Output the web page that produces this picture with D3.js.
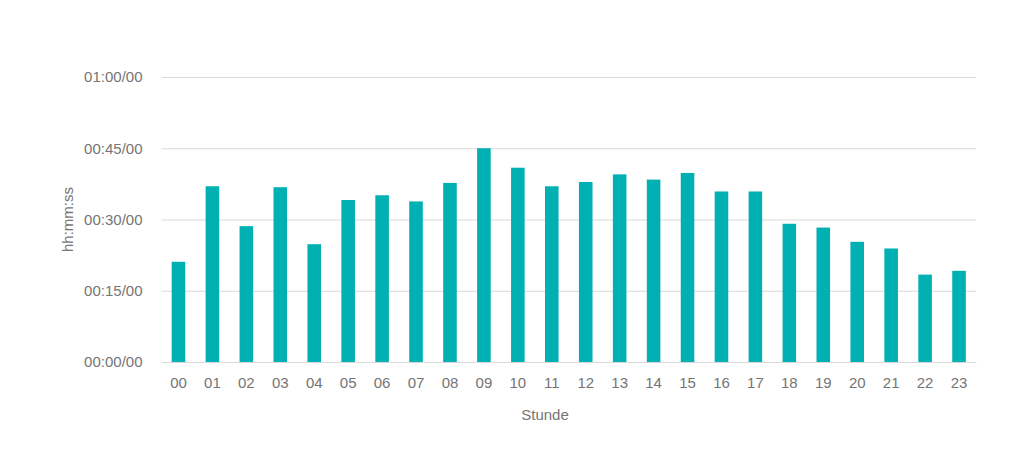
<!DOCTYPE html>
<html>
<head>
<meta charset="utf-8">
<script src="https://cdn.jsdelivr.net/npm/d3@7"></script>
<style>
  body { margin: 0; background: #fff; }
  text { font-family: "Liberation Sans", Helvetica, Arial, sans-serif; fill: #757575; }
</style>
</head>
<body>
<div id="chart"></div>
<script>
// hours of the day
var hours = ["00","01","02","03","04","05","06","07","08","09","10","11",
             "12","13","14","15","16","17","18","19","20","21","22","23"];
// average duration in minutes
var minutes = [21.1, 37.0, 28.6, 36.8, 24.8, 34.1, 35.1, 33.8, 37.7, 45.0, 40.9, 37.0,
               37.9, 39.5, 38.4, 39.8, 35.9, 35.9, 29.1, 28.3, 25.3, 23.9, 18.4, 19.2];
var tickValues = [0, 15, 30, 45, 60];
var tickLabels = ["00:00/00", "00:15/00", "00:30/00", "00:45/00", "01:00/00"];

var width = 1024, height = 468;
var margin = { top: 77, right: 48, bottom: 106, left: 161.5 };

var svg = d3.select("#chart")
  .append("svg")
  .attr("width", width)
  .attr("height", height);

var x = d3.scaleBand()
  .domain(hours)
  .range([margin.left, width - margin.right])
  .paddingInner(0.6)
  .paddingOuter(0.3);

var y = d3.scaleLinear()
  .domain([0, 60])
  .range([height - margin.bottom, margin.top]);

// gridlines + y labels
var yAxis = svg.append("g")
  .attr("transform", "translate(" + margin.left + ",0)")
  .call(d3.axisLeft(y)
    .tickValues(tickValues)
    .tickSize(-(width - margin.right - margin.left))
    .tickPadding(19)
    .tickFormat(function(d, i) { return tickLabels[i]; }));
yAxis.select(".domain").remove();
yAxis.selectAll("line").attr("stroke", "#d9d9d9").attr("stroke-width", 1);
yAxis.selectAll("text").style("font-size", "15px").attr("fill", "#757575");

// bars
svg.selectAll(".bar")
  .data(minutes)
  .enter().append("rect")
  .attr("class", "bar")
  .attr("x", function(d, i) { return x(hours[i]); })
  .attr("y", function(d) { return y(d); })
  .attr("width", x.bandwidth())
  .attr("height", function(d) { return y(0) - y(d); })
  .attr("fill", "#00b0b2");

// x axis
var xAxis = svg.append("g")
  .attr("transform", "translate(0," + y(0) + ")")
  .call(d3.axisBottom(x).tickSize(0).tickPadding(15));
xAxis.select(".domain").attr("stroke", "#d9d9d9");
xAxis.selectAll("text").style("font-size", "15px").attr("fill", "#757575");

// axis titles
svg.append("text")
  .attr("x", 545)
  .attr("y", 420)
  .attr("text-anchor", "middle")
  .style("font-size", "15px")
  .text("Stunde");

svg.append("text")
  .attr("transform", "translate(73," + y(30) + ") rotate(-90)")
  .attr("text-anchor", "middle")
  .style("font-size", "15px")
  .text("hh:mm:ss");
</script>
</body>
</html>
